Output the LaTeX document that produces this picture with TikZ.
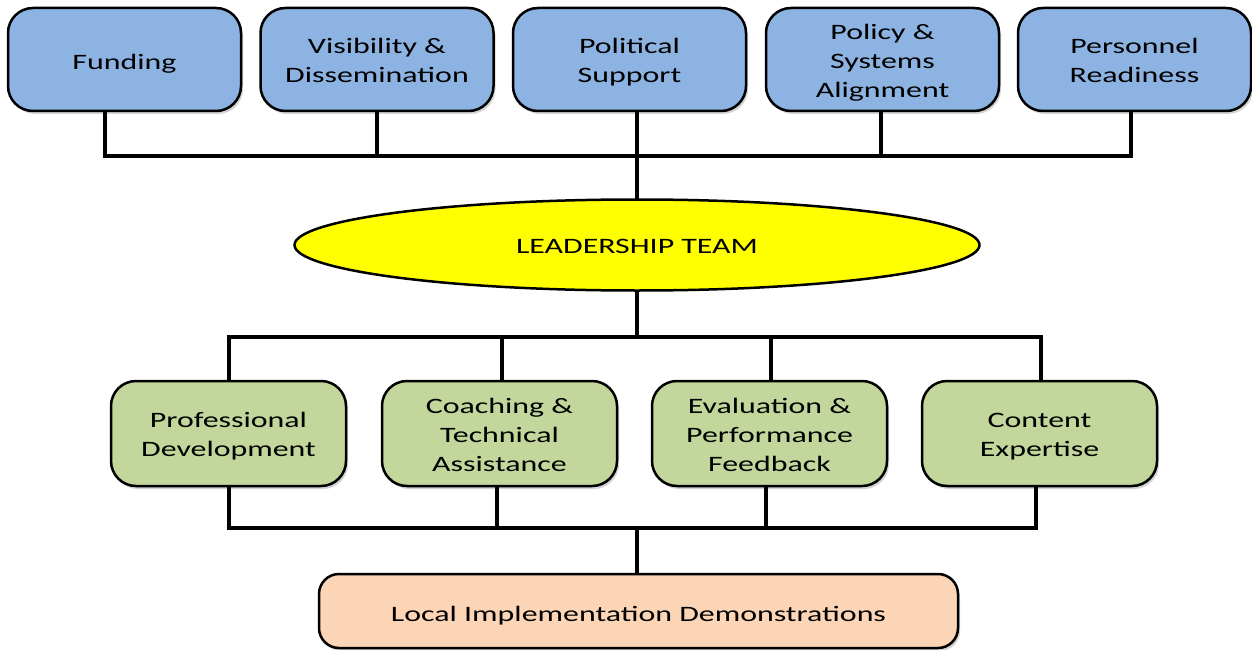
\documentclass[tikz,border=0pt]{standalone}
\usepackage{fontspec}
\setmainfont{Carlito}
\usepackage{graphicx}
\usetikzlibrary{shapes.geometric,shadows}
\definecolor{topblue}{RGB}{141,179,226}
\definecolor{midgreen}{RGB}{195,214,155}
\definecolor{peach}{RGB}{251,213,181}
\definecolor{leadyellow}{RGB}{255,255,0}
\newcommand{\sxt}[2][-3pt]{\raisebox{#1}[\height][\depth]{\scalebox{1.45}[1]{\begin{tabular}{@{}c@{}}#2\end{tabular}}}}
\tikzset{
  box/.style={draw=black, line width=2.5pt, rounded corners=25pt, inner sep=0pt,
    minimum height=103pt, minimum width=233pt,
    font=\fontsize{22}{29}\selectfont,
    drop shadow={opacity=0.35, shadow xshift=2pt, shadow yshift=-3pt}},
  topbox/.style={box, fill=topblue},
  midbox/.style={box, fill=midgreen, minimum height=105pt, minimum width=235pt},
  basebox/.style={box, fill=peach, minimum height=74pt, minimum width=639pt, rounded corners=20pt},
  leader/.style={ellipse, draw=black, line width=2.5pt, fill=leadyellow, inner sep=0pt,
    minimum width=685pt, minimum height=91pt, font=\fontsize{22}{29}\selectfont},
  link/.style={draw=black, line width=3.2pt, line cap=rect}
}
\begin{document}
\begin{tikzpicture}[x=1pt,y=-1pt]
\useasboundingbox (0,0) rectangle (1252,650);
% top row
\node[topbox] (fund) at (124.5,59.5) {\sxt[-4pt]{Funding}};
\node[topbox] (vis)  at (377,59.5)   {\sxt{Visibility \&\\Dissemination}};
\node[topbox] (pol)  at (629.5,59.5) {\sxt{Political\\Support}};
\node[topbox] (psa)  at (882.5,59.5) {\sxt{Policy \&\\Systems\\Alignment}};
\node[topbox] (pers) at (1134.5,59.5){\sxt{Personnel\\Readiness}};
% leadership
\node[leader] (lead) at (637,245) {\sxt{LEADERSHIP TEAM}};
% middle row
\node[midbox] (prof) at (228.5,433.5) {\sxt{Professional\\Development}};
\node[midbox] (coach) at (499.5,433.5) {\sxt{Coaching \&\\Technical\\Assistance}};
\node[midbox] (eval) at (769.5,433.5) {\sxt{Evaluation \&\\Performance\\Feedback}};
\node[midbox] (cont) at (1039.5,433.5) {\sxt{Content\\Expertise}};
% bottom
\node[basebox] (local) at (638.5,611) {\sxt[-5pt]{Local Implementation Demonstrations}};
% bus coordinates
\coordinate (t1) at (105,156);
\coordinate (t2) at (377,156);
\coordinate (t3) at (637,156);
\coordinate (t4) at (881,156);
\coordinate (t5) at (1131,156);
\coordinate (m1) at (229,337);
\coordinate (m2) at (502,337);
\coordinate (m3) at (637,337);
\coordinate (m4) at (771,337);
\coordinate (m5) at (1041,337);
\coordinate (b1) at (229,528);
\coordinate (b2) at (497,528);
\coordinate (b3) at (637,528);
\coordinate (b4) at (766,528);
\coordinate (b5) at (1036,528);
% top connectors
\draw[link] (t1 |- fund.south) -- (t1) -- (t5) -- (t5 |- pers.south);
\draw[link] (t2 |- vis.south) -- (t2);
\draw[link] (t3 |- pol.south) -- (t3) -- (t3 |- lead.north);
\draw[link] (t4 |- psa.south) -- (t4);
% middle connectors
\draw[link] (m3 |- lead.south) -- (m3);
\draw[link] (m1 |- prof.north) -- (m1) -- (m5) -- (m5 |- cont.north);
\draw[link] (m2) -- (m2 |- coach.north);
\draw[link] (m4) -- (m4 |- eval.north);
% bottom connectors
\draw[link] (b1 |- prof.south) -- (b1) -- (b5) -- (b5 |- cont.south);
\draw[link] (b2 |- coach.south) -- (b2);
\draw[link] (b4 |- eval.south) -- (b4);
\draw[link] (b3) -- (b3 |- local.north);
\end{tikzpicture}
\end{document}
